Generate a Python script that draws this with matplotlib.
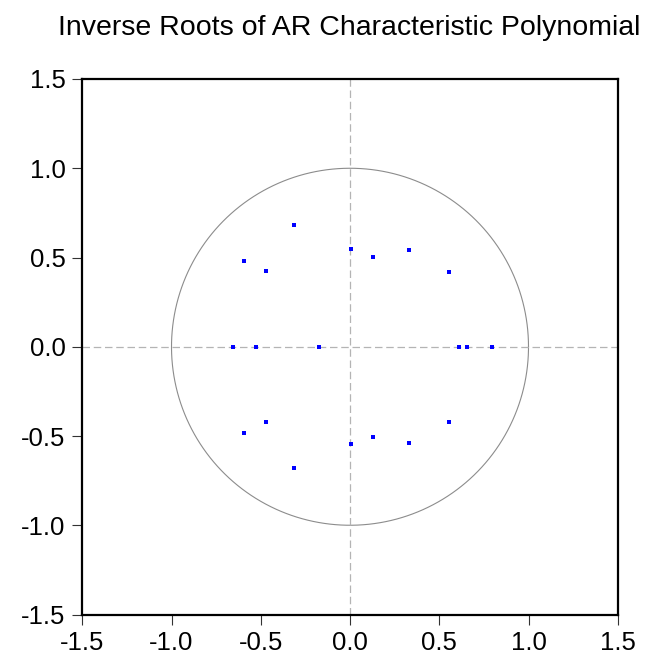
import numpy as np
import matplotlib.pyplot as plt

plt.rcParams['font.family'] = ['Liberation Sans', 'DejaVu Sans']

# inverse roots (real part, imaginary part)
root_re = [-0.657, -0.528, -0.172, 0.612, 0.655, 0.796,
           -0.312, -0.312, -0.592, -0.592, -0.468, -0.468,
           0.006, 0.006, 0.127, 0.127, 0.332, 0.332, 0.557, 0.557]
root_im = [0.0, 0.0, 0.0, 0.0, 0.0, 0.0,
           0.680, -0.680, 0.481, -0.481, 0.422, -0.422,
           0.546, -0.546, 0.505, -0.505, 0.542, -0.542, 0.420, -0.420]
ticks = [-1.5, -1.0, -0.5, 0.0, 0.5, 1.0, 1.5]

fig = plt.figure(figsize=(6.51, 6.63), dpi=100)
ax = fig.add_axes([82.25 / 651, 48.5 / 663, 535.5 / 651, 535.5 / 663])

# unit circle
t = np.linspace(0, 2 * np.pi, 400)
ax.plot(np.cos(t), np.sin(t), color='#8c8c8c', lw=0.8)

# zero lines
ax.axhline(0, color='#b4b4b4', lw=0.9, ls=(0, (6, 3)))
ax.axvline(0, color='#b4b4b4', lw=0.9, ls=(0, (6, 3)))

ax.scatter(root_re, root_im, s=5, marker='s', color='#0000ff', lw=0, zorder=3)

ax.set_xlim(-1.5, 1.5)
ax.set_ylim(-1.5, 1.5)
ax.set_xticks(ticks)
ax.set_yticks(ticks)
ax.set_xticklabels([f'{v:.1f}' for v in ticks])
ax.set_yticklabels([f'{v:.1f}' for v in ticks])
ax.tick_params(direction='out', length=7, width=0.8, color='#333333',
               labelsize=18.5, pad=5)
for s in ax.spines.values():
    s.set_linewidth(1.6)
    s.set_color('black')

fig.text(0.537, 1 - 35 / 663, 'Inverse Roots of AR Characteristic Polynomial',
         ha='center', va='baseline', fontsize=20.5)

fig.savefig('out.png', dpi=100)
